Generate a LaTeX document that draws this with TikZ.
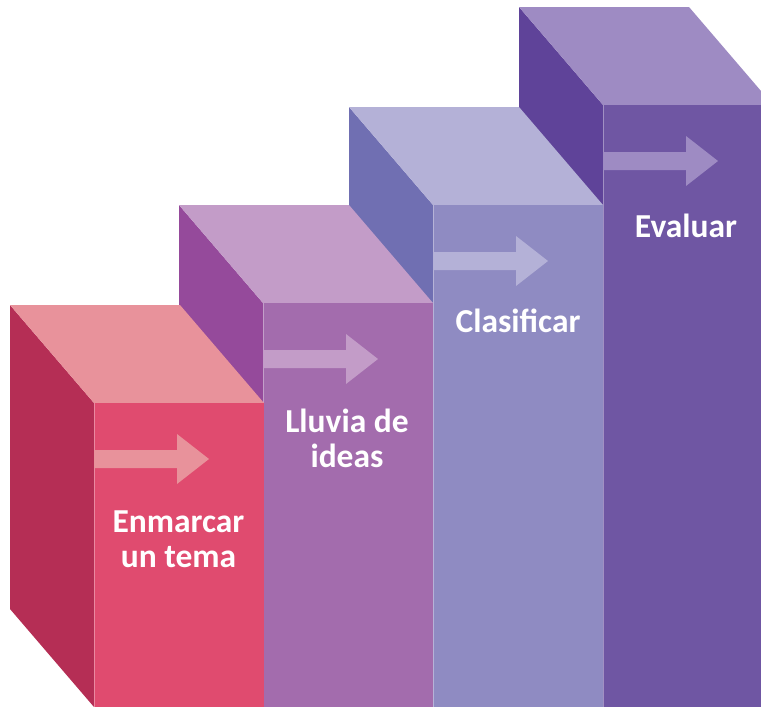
\documentclass[tikz,border=0pt]{standalone}
\usepackage{fontspec}
\setmainfont{Carlito}
\definecolor{sideA}{HTML}{B52E55}
\definecolor{topA}{HTML}{E8929B}
\definecolor{frontA}{HTML}{E04B6F}
\definecolor{sideB}{HTML}{954A9B}
\definecolor{topB}{HTML}{C39CC8}
\definecolor{frontB}{HTML}{A36CAD}
\definecolor{sideC}{HTML}{706FB2}
\definecolor{topC}{HTML}{B4B1D7}
\definecolor{frontC}{HTML}{8F8BC2}
\definecolor{sideD}{HTML}{5F4399}
\definecolor{topD}{HTML}{9E8BC3}
\definecolor{frontD}{HTML}{6F56A3}
\begin{document}
\begin{tikzpicture}[x=1pt,y=-1pt,
  lbl/.style={text=white, font=\bfseries\fontsize{33.5}{34.5}\selectfont, align=center, anchor=base, inner sep=0pt}]
\useasboundingbox (0,0) rectangle (761,707);
\clip (0,0) rectangle (761,707);
\foreach \x/\t/\cs/\ct/\cf in {603/105/sideD/topD/frontD, 433/205/sideC/topC/frontC, 263/303/sideB/topB/frontB, 94/403/sideA/topA/frontA} {
  \fill[\cs] (\x-84,\t-98) -- (\x,\t) -- (\x,707) -- (\x-84,609) -- cycle;
  \fill[\ct] (\x-84,\t-98) -- (\x+86,\t-98) -- (\x+170,\t) -- (\x,\t) -- cycle;
  \fill[\cf] (\x,\t) rectangle (\x+170,707);
  \draw[white, opacity=0.35, line width=0.5pt] (\x,\t) -- (\x,707);
  \fill[\ct] (\x,\t+47) -- (\x+83,\t+47) -- (\x+83,\t+31) -- (\x+115,\t+56) -- (\x+83,\t+81) -- (\x+83,\t+65) -- (\x,\t+65) -- cycle;
}
\node[lbl] (la) at (178.5,567) {Enmarcar\\un tema};
\node[lbl] (lb) at (347,467) {Lluvia de\\ideas};
\node[lbl] (lc) at (518,332) {Clasificar};
\node[lbl] (ld) at (686,237) {Evaluar};
\end{tikzpicture}
\end{document}
